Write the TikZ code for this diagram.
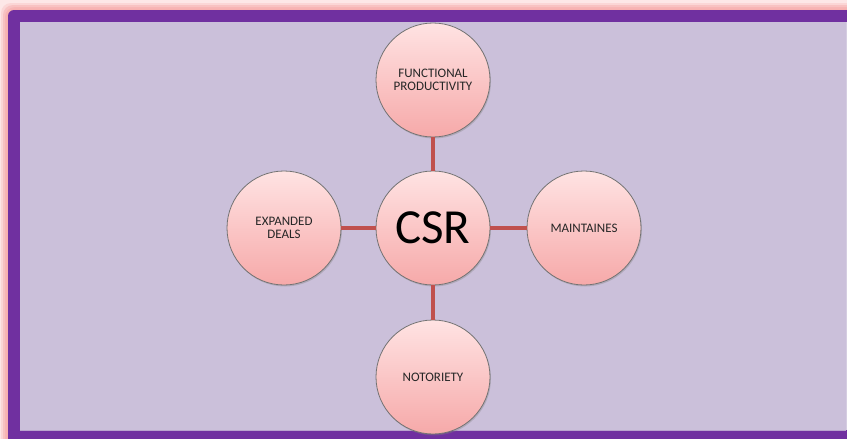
\documentclass[tikz,border=0pt]{standalone}
\usepackage{fontspec}
\setmainfont{Carlito}
\usetikzlibrary{shadows}
\definecolor{lav}{HTML}{CBC0DA}
\definecolor{purp}{HTML}{7030A0}
\definecolor{glow}{HTML}{F7B0B0}
\definecolor{link}{HTML}{C0504D}
\definecolor{ctop}{HTML}{FFE3E3}
\definecolor{cbot}{HTML}{F6A9A9}
\tikzset{
  bubble/.style={circle, minimum size=114pt, inner sep=0pt, align=center,
    top color=ctop, bottom color=cbot, draw=black!55, line width=0.8pt,
    drop shadow={shadow xshift=1pt, shadow yshift=-1.5pt, opacity=0.35},
    font=\fontsize{13}{12.5}\selectfont, text=black!85},
  linkline/.style={draw=link, line width=3.5pt}
}
\begin{document}
\begin{tikzpicture}[x=1pt,y=-1pt]
\useasboundingbox (0,0) rectangle (847,439);
% glow
\fill[glow!30!white] (0,0) rectangle (847,439);
\foreach \d/\o in {7/0.3,5/0.5,3/0.7,1.5/0.9}{
  \fill[glow, opacity=\o, rounded corners=10pt] (8-\d,10-\d) rectangle (860,450);
}
\fill[purp, rounded corners=6pt] (8,10) rectangle (860,450);
\fill[lav] (20,22) rectangle (846,430);
\draw[lav!80!white, line width=1pt] (846.5,22) -- (846.5,430);
\draw[lav!80!purp, line width=0.8pt] (20,430.5) -- (846,430.5);
% nodes
\node[bubble] (top) at (433,80) {FUNCTIONAL\\PRODUCTIVITY};
\node[bubble] (left) at (284,228) {EXPANDED\\DEALS};
\node[bubble] (right) at (584,228) {MAINTAINES};
\node[bubble] (bot) at (433,377) {NOTORIETY};
\node[bubble, font=\fontsize{49}{52}\selectfont, text=black] (csr) at (433,228) {CSR};
% links
\path[linkline] (csr.north) -- (top.south);
\path[linkline] (csr.south) -- (bot.north);
\path[linkline] (csr.west) -- (left.east);
\path[linkline] (csr.east) -- (right.west);
\end{tikzpicture}
\end{document}
